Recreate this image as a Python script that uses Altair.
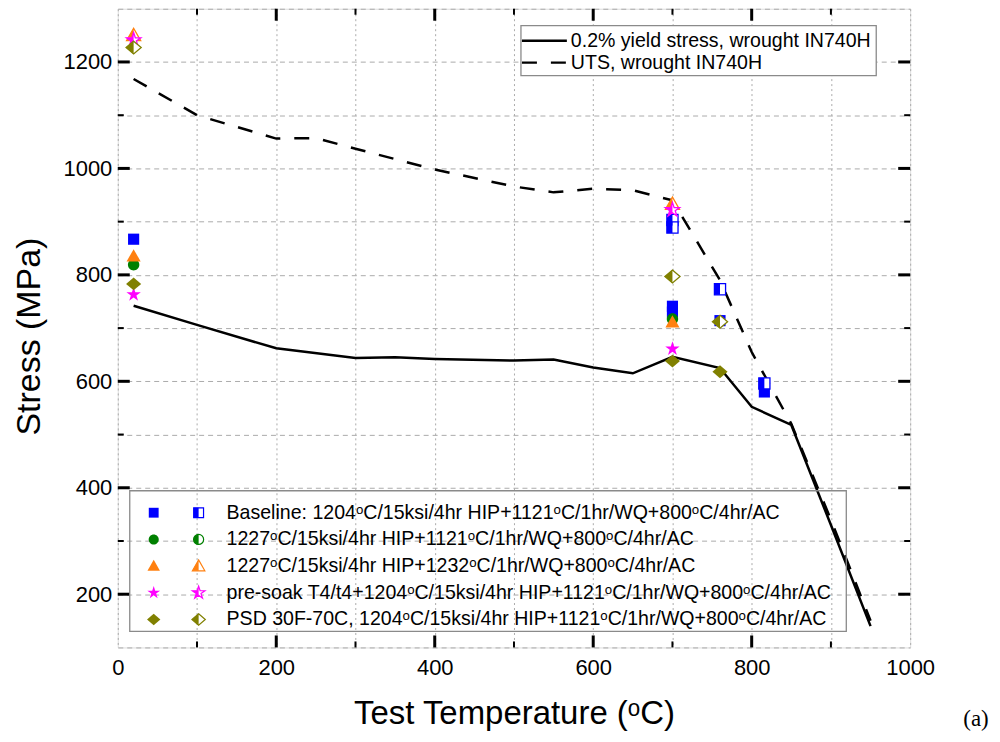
import altair as alt
import pandas as pd

W, H = 794, 640
FONT = "Liberation Sans"

# ---------------- wrought IN740H reference curves ----------------
yield_T = [20, 100, 200, 300, 350, 400, 500, 550, 600, 650, 700, 760, 800, 850, 900, 950]
yield_S = [742, 706, 662, 644, 645, 642, 639, 641, 626, 615, 646, 625, 552, 518, 330, 140]
uts_T = [20, 100, 200, 250, 300, 400, 500, 550, 600, 650, 700, 760, 800, 850, 900, 950]
uts_S = [1168, 1100, 1056, 1057, 1037, 998, 966, 955, 962, 959, 940, 790, 655, 520, 340, 150]

# ---------------- sample series ----------------
series_labels = [
    "Baseline: 1204ᵒC/15ksi/4hr HIP+1121ᵒC/1hr/WQ+800ᵒC/4hr/AC",
    "1227ᵒC/15ksi/4hr HIP+1121ᵒC/1hr/WQ+800ᵒC/4hr/AC",
    "1227ᵒC/15ksi/4hr HIP+1232ᵒC/1hr/WQ+800ᵒC/4hr/AC",
    "pre-soak T4/t4+1204ᵒC/15ksi/4hr HIP+1121ᵒC/1hr/WQ+800ᵒC/4hr/AC",
    "PSD 30F-70C, 1204ᵒC/15ksi/4hr HIP+1121ᵒC/1hr/WQ+800ᵒC/4hr/AC",
]
series_colors = ["#0000FF", "#008000", "#FF8010", "#FF00FF", "#808000"]

# yield strength (filled symbols)
ys_T = [[20, 700, 700, 760, 816], [20, 700], [20, 700], [20, 700], [20, 700, 760]]
ys_S = [[867, 741, 730, 714, 580], [819, 717], [835, 711], [763, 661], [783, 638, 618]]
# ultimate tensile strength (half-filled symbols)
uts_pT = [[700, 700, 760, 816], [], [20, 700], [20, 700], [20, 700, 760]]
uts_pS = [[903, 889, 773, 596], [], [1250, 933], [1241, 922], [1227, 797, 712]]

# axis ticks
x_ticks = [0, 100, 200, 300, 400, 500, 600, 700, 800, 900, 1000]
y_ticks = [100, 200, 300, 400, 500, 600, 700, 800, 900, 1000, 1100, 1200, 1300]

# ---------------- symbol shapes (full, left half) ----------------
SHAPES = [
    ("M-1 -1 L1 -1 L1 1 L-1 1 Z", "M-1 -1 L0 -1 L0 1 L-1 1 Z", 125),
    ("M1 0 A1 1 0 1 1 -1 0 A1 1 0 1 1 1 0 Z", "M0 -1 A1 1 0 0 0 0 1 Z", 130),
    ("M0 -1 L1 0.75 L-1 0.75 Z", "M0 -1 L0 0.75 L-1 0.75 Z", 200),
    ("M0 -1 L0.2245 -0.309 L0.951 -0.309 L0.363 0.118 L0.588 0.809 L0 0.382 "
     "L-0.588 0.809 L-0.363 0.118 L-0.951 -0.309 L-0.2245 -0.309 Z",
     "M0 -1 L0 0.382 L-0.588 0.809 L-0.363 0.118 L-0.951 -0.309 L-0.2245 -0.309 Z", 230),
    ("M0 -0.85 L1 0 L0 0.85 L-1 0 Z", "M0 -0.85 L0 0.85 L-1 0 Z", 230),
]

xs = alt.Scale(domain=[0, 1000], nice=False, zero=False)
ysc = alt.Scale(domain=[100, 1300], nice=False, zero=False)

x_axis = alt.Axis(
    values=x_ticks, labelExpr="datum.value % 200 == 0 ? datum.label : ''", format="d",
    ticks=False, domain=False, grid=True, gridDash=[2, 3], gridColor="#ababab", gridWidth=1,
    labelFont=FONT, labelFontSize=22, labelColor="black", labelPadding=10,
    labelFlush=False, labelOverlap=False,
    title="Test Temperature (ᵒC)", titleFont=FONT, titleFontSize=33, titleFontWeight="normal",
    titleColor="black", titleBaseline="alphabetic", titleY=76,
)
y_axis = alt.Axis(
    values=y_ticks, labelExpr="datum.value % 200 == 0 ? datum.label : ''", format="d",
    ticks=False, domain=False, grid=True, gridDash=[5, 4], gridColor="#ababab", gridWidth=1,
    labelFont=FONT, labelFontSize=22, labelColor="black", labelPadding=6,
    labelFlush=False, labelOverlap=False,
    title="Stress (MPa)", titleFont=FONT, titleFontSize=34, titleFontWeight="normal",
    titleColor="black", titleBaseline="alphabetic", titleX=-78, titleY=328, titleAngle=270,
)


def X(field="T"):
    return alt.X(f"{field}:Q", scale=xs, axis=x_axis)


def Y(field="S"):
    return alt.Y(f"{field}:Q", scale=ysc, axis=y_axis)


layers = []

yield_df = pd.DataFrame({"T": yield_T, "S": yield_S})
uts_df = pd.DataFrame({"T": uts_T, "S": uts_S})

layers.append(alt.Chart(yield_df).mark_line(color="black", strokeWidth=2.5).encode(x=X(), y=Y()))
layers.append(
    alt.Chart(uts_df).mark_line(color="black", strokeWidth=2.5, strokeDash=[15, 14]).encode(x=X(), y=Y())
)

for i in range(5):
    full, half, size = SHAPES[i]
    col = series_colors[i]
    fdf = pd.DataFrame({"T": ys_T[i], "S": ys_S[i]})
    layers.append(
        alt.Chart(fdf).mark_point(shape=full, filled=True, fill=col, strokeWidth=0, size=size, opacity=1)
        .encode(x=X(), y=Y())
    )
    if uts_pT[i]:
        udf = pd.DataFrame({"T": uts_pT[i], "S": uts_pS[i]})
        layers.append(
            alt.Chart(udf).mark_point(shape=full, filled=True, fill="white", stroke=col, strokeWidth=1.3,
                                      size=size, opacity=1).encode(x=X(), y=Y())
        )
        layers.append(
            alt.Chart(udf).mark_point(shape=half, filled=True, fill=col, strokeWidth=0, size=size, opacity=1)
            .encode(x=X(), y=Y())
        )


# ---------------- inward ticks on all four sides ----------------
def tick_layer(vals, side, length, width):
    df = pd.DataFrame({"T": vals, "S": vals})
    m = alt.Chart(df).mark_rule(color="black", strokeWidth=width)
    if side == "left":
        return m.encode(y=Y(), x=alt.value(0), x2=alt.value(length))
    if side == "right":
        return m.encode(y=Y(), x=alt.value(W - length), x2=alt.value(W))
    if side == "bottom":
        return m.encode(x=X(), y=alt.value(H - length), y2=alt.value(H))
    return m.encode(x=X(), y=alt.value(0), y2=alt.value(length))


x_major = [v for v in x_ticks[1:-1] if v % 200 == 0]
x_minor = [v for v in x_ticks[1:-1] if v % 200 != 0]
y_major = [v for v in y_ticks[1:-1] if v % 200 == 0]
y_minor = [v for v in y_ticks[1:-1] if v % 200 != 0]
for side in ("left", "right"):
    layers.append(tick_layer(y_major, side, 12, 3))
    layers.append(tick_layer(y_minor, side, 6, 2))
for side in ("bottom", "top"):
    layers.append(tick_layer(x_major, side, 12, 3))
    layers.append(tick_layer(x_minor, side, 6, 2))

one = pd.DataFrame({"a": [0]})

# ---------------- top legend (curves) ----------------
layers.append(
    alt.Chart(one).mark_rect(fill="white", stroke="#8a8a8a", strokeWidth=1.3).encode(
        x=alt.value(404), x2=alt.value(760), y=alt.value(17), y2=alt.value(67)
    )
)
curve_labels = ["0.2% yield stress, wrought IN740H", "UTS, wrought IN740H"]
for j, lab in enumerate(curve_labels):
    yy = 32 + 22 * j
    rule = alt.Chart(one).mark_rule(color="black", strokeWidth=2.5,
                                    strokeDash=[15, 14] if j == 1 else [1, 0])
    layers.append(rule.encode(x=alt.value(405), x2=alt.value(450), y=alt.value(yy)))
    layers.append(
        alt.Chart(one).mark_text(align="left", baseline="middle", font=FONT, fontSize=19.6, color="black").encode(
            x=alt.value(454), y=alt.value(yy), text=alt.value(lab)
        )
    )

# ---------------- bottom legend (samples) ----------------
layers.append(
    alt.Chart(one).mark_rect(fillOpacity=0, stroke="#8a8a8a", strokeWidth=1.3).encode(
        x=alt.value(12), x2=alt.value(730), y=alt.value(483), y2=alt.value(624)
    )
)
for i in range(5):
    full, half, size = SHAPES[i]
    col = series_colors[i]
    yy = 505 + 26.75 * i
    s = size * 0.78
    layers.append(alt.Chart(one).mark_point(shape=full, filled=True, fill=col, strokeWidth=0, size=s, opacity=1)
                  .encode(x=alt.value(36), y=alt.value(yy)))
    layers.append(alt.Chart(one).mark_point(shape=full, filled=True, fill="white", stroke=col, strokeWidth=1.2,
                                            size=s, opacity=1).encode(x=alt.value(81), y=alt.value(yy)))
    layers.append(alt.Chart(one).mark_point(shape=half, filled=True, fill=col, strokeWidth=0, size=s, opacity=1)
                  .encode(x=alt.value(81), y=alt.value(yy)))
    layers.append(
        alt.Chart(one).mark_text(align="left", baseline="middle", font=FONT, fontSize=19.6, color="black").encode(
            x=alt.value(109), y=alt.value(yy), text=alt.value(series_labels[i])
        )
    )

layers.append(
    alt.Chart(one).mark_text(align="center", baseline="middle", font="Liberation Serif", fontSize=23,
                             color="black").encode(x=alt.value(860), y=alt.value(712), text=alt.value("(a)"))
)

chart = alt.layer(*layers).properties(
    width=W, height=H,
    autosize=alt.AutoSizeParams(type="none"),
    padding={"left": 110, "top": 0, "right": 82, "bottom": 86},
).configure_view(stroke="black", strokeWidth=2.5).configure(background="white")

chart.save("out.html", embed_options={"renderer": "svg", "actions": False})
